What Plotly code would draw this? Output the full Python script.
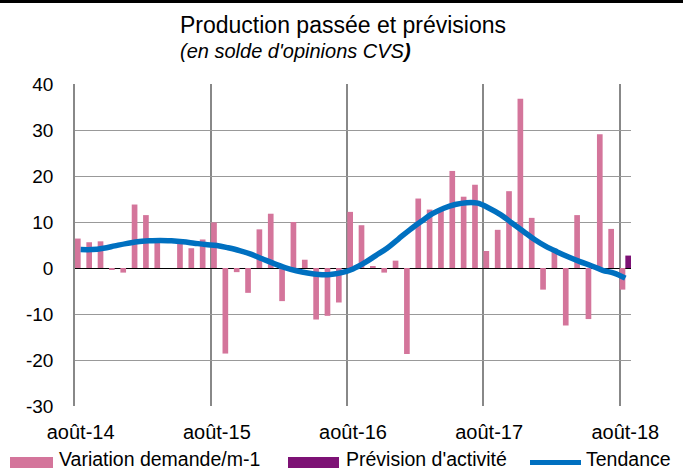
import plotly.graph_objects as go

# ---- data ----
month_index = list(range(49))  # août-14 ... août-18
variation = [6.4, 5.6, 5.8, -0.3, -1.0, 13.8, 11.5, 5.7, None, 5.3, 4.3, 6.2,
             9.9, -18.6, -0.9, -5.4, 8.4, 11.8, -7.2, 10.0, 1.8, -11.2, -10.4, -7.5,
             12.2, 9.3, 0.4, -1.0, 1.6, -18.7, 15.1, 12.7, 12.8, 21.1, 15.5, 18.1,
             3.7, 8.3, 16.7, 36.8, 10.9, -4.7, 4.2, -12.5, 11.5, -11.1, 29.1, 8.5,
             -4.7]
prevision_month = [48]
prevision = [2.7]
tendance = [4.0, 4.0, 4.3, 4.8, 5.3, 5.7, 5.9, 6.0, 5.9, 5.7, 5.4, 5.1,
            4.9, 4.4, 3.8, 3.0, 2.0, 1.0, 0.1, -0.6, -1.1, -1.4, -1.4, -1.0,
            -0.2, 1.1, 2.7, 4.3, 6.3, 8.3, 10.1, 11.8, 13.0, 13.8, 14.2, 14.1,
            13.0, 11.6, 9.8, 8.0, 6.2, 4.7, 3.5, 2.4, 1.4, 0.5, -0.5, -1.1,
            -2.2]
year_ticks = [0, 12, 24, 36, 48]
tick_labels = ["août-14", "août-15", "août-16", "août-17", "août-18"]
series_names = ["Variation demande/m-1", "Prévision d'activité", "Tendance"]
y_ticks = [-30, -20, -10, 0, 10, 20, 30, 40]
y_tick_labels = ["-30", "-20", "-10", "0", "10", "20", "30", "40"]

PINK = "#D4759B"
PURPLE = "#7D1275"
BLUE = "#0070C0"
FONT = "Liberation Sans, Arial, sans-serif"

W, H = 683, 470
ML, MR, MT, MB = 75, 52, 84, 64
PW, PH = W - ML - MR, H - MT - MB


def px(x):
    return (x - ML) / PW


def py(y):
    return (H - MB - y) / PH


fig = go.Figure()
fig.add_trace(go.Bar(x=month_index, y=variation, offset=0, width=0.5,
                     marker=dict(color=PINK, line=dict(width=0)),
                     name=series_names[0], showlegend=False))
fig.add_trace(go.Bar(x=prevision_month, y=prevision, offset=0.5, width=0.5,
                     marker=dict(color=PURPLE, line=dict(width=0)),
                     name=series_names[1], showlegend=False))
fig.add_trace(go.Scatter(x=[m + 0.5 for m in month_index], y=tendance,
                         mode="lines", line=dict(color=BLUE, width=5.5, shape="spline", smoothing=1),
                         name=series_names[2], showlegend=False))

fig.update_layout(
    width=W, height=H,
    margin=dict(l=ML, r=MR, t=MT, b=MB, pad=0),
    paper_bgcolor="white", plot_bgcolor="white",
    barmode="overlay",
    font=dict(family=FONT, color="black"),
    xaxis=dict(range=[0, 49], tickmode="array",
               tickvals=[t + 0.5 for t in year_ticks], ticktext=tick_labels,
               showgrid=False, zeroline=False, ticks="",
               tickfont=dict(size=20), ticklabelstandoff=12,
               minor=dict(tick0=0, dtick=12, showgrid=True, gridcolor="#888888", gridwidth=1.5, ticks=""),
               fixedrange=True),
    yaxis=dict(range=[-30, 40], tickmode="array", tickvals=y_ticks, ticktext=y_tick_labels,
               showgrid=True, gridcolor="#999999", gridwidth=1,
               zeroline=True, zerolinecolor="black", zerolinewidth=1,
               showline=True, linecolor="#888888", linewidth=1.5,
               ticks="", tickfont=dict(size=19), ticklabelstandoff=16,
               fixedrange=True),
)

shapes = [
    dict(type="rect", xref="paper", yref="paper", x0=px(0), x1=px(W), y0=py(3), y1=py(0),
         fillcolor="black", line=dict(width=0), layer="above"),
    # legend swatches
    dict(type="rect", xref="paper", yref="paper", x0=px(10), x1=px(53), y0=py(468), y1=py(457),
         fillcolor=PINK, line=dict(width=0)),
    dict(type="rect", xref="paper", yref="paper", x0=px(288), x1=px(339), y0=py(468), y1=py(457),
         fillcolor=PURPLE, line=dict(width=0)),
    dict(type="line", xref="paper", yref="paper", x0=px(530), x1=px(581), y0=py(462.5), y1=py(462.5),
         line=dict(color=BLUE, width=5)),
]
fig.update_layout(shapes=shapes)

annotations = [
    dict(text="Production passée et prévisions", xref="paper", yref="paper",
         x=px(178), y=py(24.5), xanchor="left", yanchor="middle", showarrow=False,
         font=dict(size=23, family=FONT, color="black")),
    dict(text="<i>(en solde d'opinions CVS</i><b><i>)</i></b>", xref="paper", yref="paper",
         x=px(178), y=py(51), xanchor="left", yanchor="middle", showarrow=False,
         font=dict(size=20, family=FONT, color="black")),
    dict(text=series_names[0], xref="paper", yref="paper", x=px(57), y=py(459),
         xanchor="left", yanchor="middle", showarrow=False, font=dict(size=19.5, family=FONT)),
    dict(text=series_names[1], xref="paper", yref="paper", x=px(344), y=py(459),
         xanchor="left", yanchor="middle", showarrow=False, font=dict(size=19.5, family=FONT)),
    dict(text=series_names[2], xref="paper", yref="paper", x=px(584), y=py(459),
         xanchor="left", yanchor="middle", showarrow=False, font=dict(size=19.5, family=FONT)),
]
fig.update_layout(annotations=annotations)

post = "document.body.style.margin='0';document.body.style.overflow='hidden';"
fig.write_html("out.html", config={"displayModeBar": False}, post_script=post)
